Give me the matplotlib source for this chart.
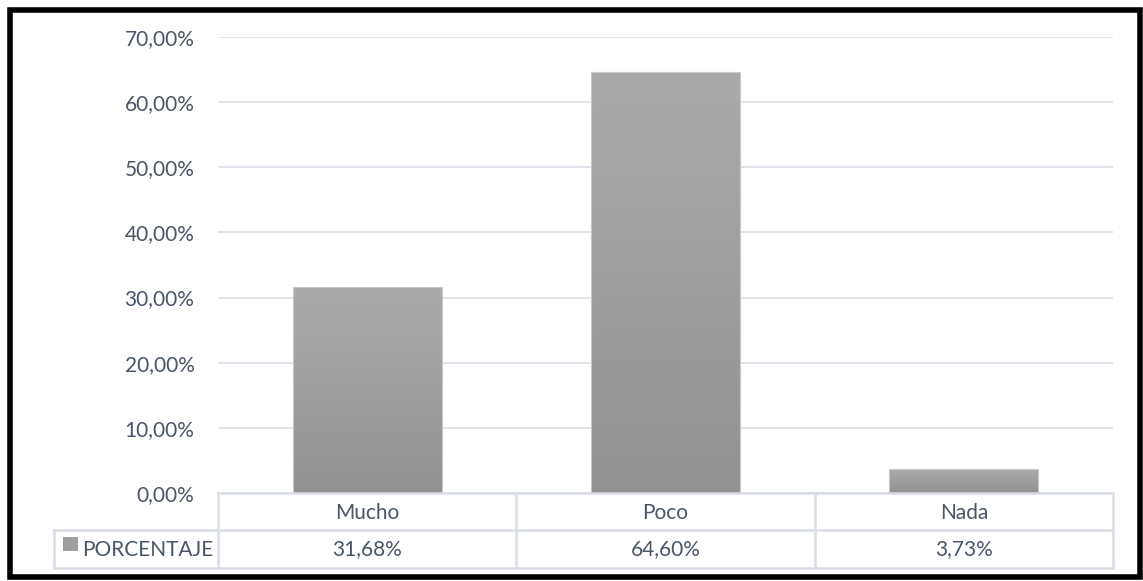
import matplotlib
matplotlib.use("Agg")
import matplotlib.pyplot as plt
import numpy as np
from matplotlib.patches import Rectangle
from matplotlib.lines import Line2D
from matplotlib.colors import LinearSegmentedColormap

categories = ["Mucho", "Poco", "Nada"]
values = [31.68, 64.60, 3.73]
series_name = "PORCENTAJE"
yticks = [0, 10, 20, 30, 40, 50, 60, 70]

plt.rcParams['font.family'] = ['Lato', 'DejaVu Sans']
TXT = "#4A5567"
GRID = "#D9DEE6"
FS = 15

W, H = 1143, 581
fig = plt.figure(figsize=(W / 100, H / 100), dpi=100)

ax_l, ax_r, ax_t, ax_b = 218, 1113, 37, 493
ax = fig.add_axes([ax_l / W, 1 - ax_b / H, (ax_r - ax_l) / W, (ax_b - ax_t) / H])
ax.set_xlim(-0.5, len(categories) - 0.5)
ax.set_ylim(0, 70)
for s in ax.spines.values():
    s.set_visible(False)
ax.set_xticks([])
ax.set_yticks(yticks)
ax.set_yticklabels([f"{v:.2f}".replace(".", ",") + "%" for v in yticks], fontsize=FS, color=TXT)
ax.tick_params(axis='y', length=0, pad=17)
ax.grid(axis='y', color=GRID, linewidth=1.2)
ax.set_axisbelow(True)

x = np.arange(len(categories))
bars = ax.bar(x, values, width=0.5, color="none", edgecolor="#C8C8C8", linewidth=0.8, zorder=3)
grad = np.linspace(0, 1, 256).reshape(-1, 1)
cmap = LinearSegmentedColormap.from_list("g", ["#929292", "#ABABAB"])
for b in bars:
    x0, y0, w, h = b.get_x(), b.get_y(), b.get_width(), b.get_height()
    im = ax.imshow(grad, extent=[x0, x0 + w, y0, y0 + h], origin='lower', cmap=cmap,
                   aspect='auto', zorder=2)
    im.set_clip_path(b)
ax.set_xlim(-0.5, len(categories) - 0.5)
ax.set_ylim(0, 70)

# data table (axes fraction in y, data in x)
tr = ax.get_xaxis_transform()
axh = ax_b - ax_t
r1 = -(530 - ax_b) / axh
r2 = -(568 - ax_b) / axh
xl = -0.5 - (ax_l - 54) / (ax_r - ax_l) * len(categories)
lk = dict(color=GRID, linewidth=1.8, clip_on=False, transform=tr)
ax.add_line(Line2D([-0.5, 2.5], [0, 0], **lk))
ax.add_line(Line2D([xl, 2.5], [r1, r1], **lk))
ax.add_line(Line2D([xl, 2.5], [r2, r2], **lk))
ax.add_line(Line2D([xl, xl], [r1, r2], **lk))
for xv in [-0.5, 0.5, 1.5, 2.5]:
    ax.add_line(Line2D([xv, xv], [0, r2], **lk))

for i, (c, v) in enumerate(zip(categories, values)):
    ax.text(i, r1 / 2 - 0.004, c, transform=tr, ha='center', va='center', fontsize=FS, color=TXT)
    ax.text(i, (r1 + r2) / 2, f"{v:.2f}".replace(".", ",") + "%", transform=tr,
            ha='center', va='center', fontsize=FS, color=TXT)

# legend key + series name
fig.patches.append(Rectangle((63 / W, 1 - 551 / H), 15 / W, 14 / H, transform=fig.transFigure,
                             facecolor="#A0A0A0", edgecolor="none"))
fig.text(82 / W, 1 - 549.5 / H, series_name, fontsize=FS, color=TXT, ha='left', va='center')

# outer black border
fig.patches.append(Rectangle((9.5 / W, 4 / H), (W - 13) / W, (H - 13.5) / H, transform=fig.transFigure,
                             facecolor="none", edgecolor="black", linewidth=4))

fig.savefig("out.png", dpi=100)
